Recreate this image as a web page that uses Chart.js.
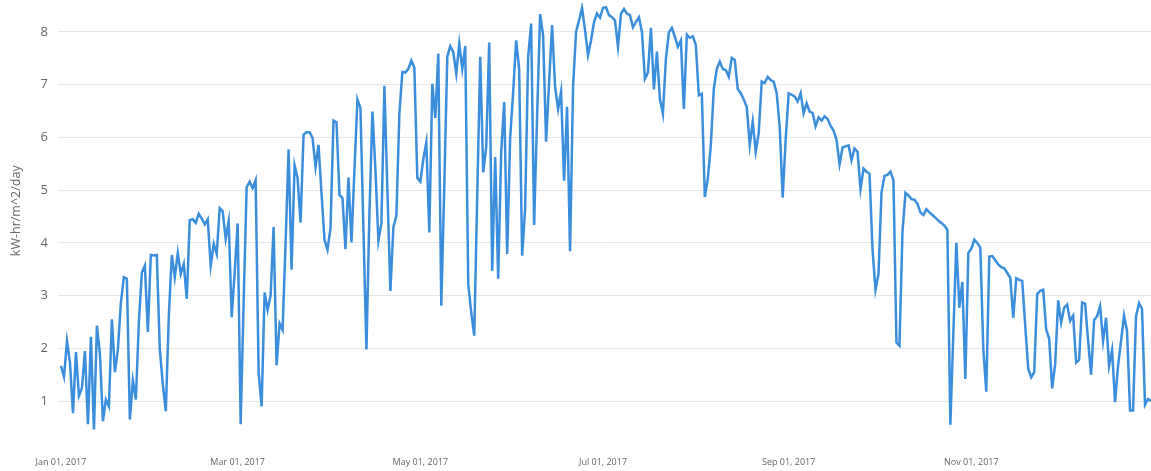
<!DOCTYPE html>
<html>
<head>
<meta charset="utf-8">
<script src="https://cdn.jsdelivr.net/npm/chart.js@4.4.1/dist/chart.umd.min.js"></script>
<style>
  html, body { margin: 0; padding: 0; background: #fff; }
  #wrap { width: 1151px; height: 471px; }
</style>
</head>
<body>
<div id="wrap"><canvas id="solarChart"></canvas></div>
<script>
// daily solar output for 2017, one array per month (kW-hr/m^2/day)
const jan = [1.67, 1.46, 2.14, 1.73, 0.77, 1.93, 1.10, 1.25, 1.95, 0.56, 2.22, 0.46, 2.43, 1.89, 0.62, 1.03, 0.90, 2.55, 1.55, 1.98, 2.87, 3.35, 3.32, 0.65, 1.39, 1.03, 2.49, 3.44, 3.57, 2.31, 3.77];
const feb = [3.76, 3.77, 1.98, 1.32, 0.81, 2.60, 3.77, 3.35, 3.81, 3.41, 3.60, 2.94, 4.43, 4.45, 4.38, 4.55, 4.46, 4.35, 4.45, 3.57, 3.98, 3.79, 4.66, 4.60, 4.08, 4.41, 2.59, 3.44];
const mar = [4.37, 0.56, 2.90, 5.06, 5.16, 5.04, 5.19, 1.54, 0.90, 3.06, 2.73, 3.00, 4.30, 1.68, 2.47, 2.35, 4.00, 5.77, 3.49, 5.47, 5.23, 4.39, 6.05, 6.10, 6.10, 5.99, 5.44, 5.86, 4.94, 4.06, 3.87];
const apr = [4.28, 6.32, 6.29, 4.91, 4.85, 3.88, 5.24, 4.01, 5.39, 6.72, 6.56, 4.25, 1.98, 4.56, 6.49, 5.39, 4.04, 4.37, 6.98, 5.00, 3.09, 4.30, 4.52, 6.45, 7.24, 7.23, 7.30, 7.46, 7.32, 5.23];
const may = [5.16, 5.59, 5.91, 4.20, 7.02, 6.37, 7.59, 2.81, 5.10, 7.53, 7.73, 7.62, 7.21, 7.78, 7.30, 7.73, 3.22, 2.68, 2.24, 4.90, 7.53, 5.34, 5.82, 7.80, 3.47, 5.63, 3.32, 5.72, 6.67, 3.79, 6.00];
const jun = [6.86, 7.84, 7.30, 3.76, 4.65, 7.53, 8.16, 4.34, 6.42, 8.34, 7.94, 5.92, 7.05, 8.13, 6.96, 6.54, 6.87, 5.18, 6.58, 3.84, 6.96, 8.00, 8.22, 8.46, 8.03, 7.56, 7.84, 8.19, 8.35, 8.27];
const jul = [8.46, 8.47, 8.32, 8.28, 8.22, 7.72, 8.35, 8.44, 8.35, 8.32, 8.09, 8.19, 8.28, 8.00, 7.11, 7.23, 8.08, 6.91, 7.63, 6.73, 6.45, 7.49, 7.99, 8.08, 7.91, 7.72, 7.84, 6.54, 7.95, 7.89, 7.92];
const aug = [7.75, 6.80, 6.83, 4.87, 5.22, 5.85, 6.92, 7.30, 7.44, 7.30, 7.28, 7.15, 7.51, 7.47, 6.92, 6.84, 6.72, 6.58, 5.86, 6.30, 5.73, 6.08, 7.06, 7.03, 7.15, 7.09, 7.06, 6.84, 6.21, 4.86, 5.96];
const sep = [6.84, 6.81, 6.78, 6.68, 6.84, 6.46, 6.65, 6.49, 6.46, 6.21, 6.38, 6.32, 6.40, 6.35, 6.22, 6.13, 5.95, 5.49, 5.81, 5.83, 5.85, 5.57, 5.79, 5.73, 5.02, 5.41, 5.35, 5.31, 3.88, 3.11];
const oct = [3.41, 4.96, 5.27, 5.29, 5.35, 5.18, 2.11, 2.05, 4.20, 4.95, 4.90, 4.83, 4.82, 4.74, 4.58, 4.53, 4.64, 4.58, 4.53, 4.48, 4.42, 4.38, 4.33, 4.25, 0.55, 2.30, 4.00, 2.77, 3.26, 1.42, 3.81];
const nov = [3.89, 4.06, 4.00, 3.91, 1.99, 1.18, 3.74, 3.75, 3.67, 3.59, 3.54, 3.52, 3.43, 3.34, 2.58, 3.33, 3.30, 3.28, 2.43, 1.61, 1.45, 1.55, 3.03, 3.09, 3.11, 2.36, 2.18, 1.24, 1.70, 2.91];
const dec = [2.49, 2.77, 2.83, 2.52, 2.62, 1.73, 1.78, 2.87, 2.85, 2.14, 1.50, 2.54, 2.61, 2.80, 2.14, 2.58, 1.67, 1.97, 0.98, 1.67, 2.14, 2.62, 2.33, 0.82, 0.82, 2.61, 2.86, 2.75, 0.93, 1.04, 1.00];

// x axis labels (day of year where they sit)
const tickDays = [0, 59, 120, 181, 243, 304];
const tickLabels = ['Jan 01, 2017', 'Mar 01, 2017', 'May 01, 2017', 'Jul 01, 2017', 'Sep 01, 2017', 'Nov 01, 2017'];
const yTicks = [1, 2, 3, 4, 5, 6, 7, 8];

const values = [].concat(jan, feb, mar, apr, may, jun, jul, aug, sep, oct, nov, dec);
const points = values.map((v, i) => ({ x: i, y: v }));

// labels may hang past the plot edges, like the original
function noEdgePadding(axis) {
    axis.paddingTop = 0;
    axis.paddingBottom = 0;
    axis.paddingLeft = 0;
    axis.paddingRight = 0;
}

new Chart(document.getElementById('solarChart'), {
    type: 'line',
    data: {
        datasets: [{
            data: points,
            borderColor: '#3a8edb',
            borderWidth: 2.5,
            pointRadius: 0,
            tension: 0,
            fill: false
        }]
    },
    options: {
        responsive: true,
        maintainAspectRatio: false,
        animation: false,
        layout: { padding: { left: 5, right: 0, top: 3, bottom: 3 } },
        plugins: { legend: { display: false }, tooltip: { enabled: false } },
        scales: {
            x: {
                type: 'linear',
                min: -1,
                max: 364,
                grid: { display: false, drawTicks: false },
                border: { display: false },
                afterBuildTicks: axis => { axis.ticks = tickDays.map(v => ({ value: v })); },
                afterFit: axis => { noEdgePadding(axis); axis.height = 30; },
                ticks: {
                    autoSkip: false,
                    maxRotation: 0,
                    padding: 19,
                    color: '#666',
                    font: { family: 'Open Sans', size: 9 },
                    callback: v => tickLabels[tickDays.indexOf(v)]
                }
            },
            y: {
                min: 0.3,
                max: 8.55,
                border: { display: false },
                afterBuildTicks: axis => { axis.ticks = yTicks.map(v => ({ value: v })); },
                afterFit: axis => { noEdgePadding(axis); axis.width = 53; },
                grid: { color: '#e6e6e6', drawTicks: false },
                ticks: { padding: 10, color: '#666', font: { family: 'Open Sans', size: 13 } },
                title: {
                    display: true,
                    // leading spaces nudge the title up a little, it sits above centre in the original
                    text: '      kW-hr/m^2/day',
                    color: '#666',
                    font: { family: 'Open Sans', size: 12.5 },
                    padding: { top: 4, bottom: 4 }
                }
            }
        }
    }
});
</script>
</body>
</html>
